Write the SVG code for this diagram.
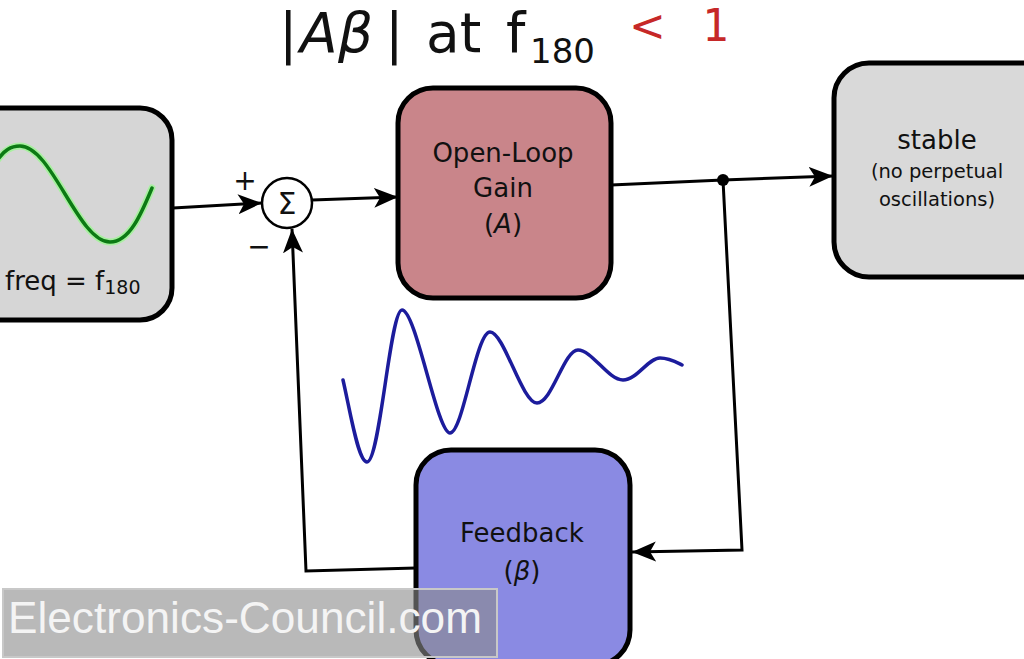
<svg xmlns="http://www.w3.org/2000/svg" width="1024" height="659" viewBox="0 0 1024 659">
<style>
.box{stroke:#000;stroke-width:5}
.lbl{font-family:"DejaVu Sans",Verdana,sans-serif;fill:#111;text-anchor:middle}
.wire{fill:none;stroke:#000;stroke-width:3;stroke-linejoin:miter}
</style>
<defs>
<marker id="arr" markerUnits="userSpaceOnUse" markerWidth="26" markerHeight="22" refX="24" refY="10" orient="auto">
<path d="M0,0 L24,10 L0,20 L6,10 z" fill="#000"/>
</marker>
</defs>
<rect width="1024" height="659" fill="#fff"/>

<g id="title" font-family="'DejaVu Sans',Verdana,sans-serif" fill="#111">
<text y="52" font-size="55"><tspan x="279">|</tspan><tspan x="300" font-style="italic">A</tspan><tspan x="338" font-style="italic">β</tspan><tspan x="385">|</tspan><tspan x="426">at</tspan><tspan x="506">f</tspan></text>
<text x="530" y="63" font-size="34">180</text>
<text x="629" y="41" font-size="44" fill="#c62828">&lt;</text>
<text x="702" y="41" font-size="44" font-family="'DejaVu Sans Mono',monospace" fill="#c62828">1</text>
</g>

<g id="connectors">
<path class="wire" d="M173,208 L262,203" marker-end="url(#arr)"/>
<path class="wire" d="M312,200 L398,197" marker-end="url(#arr)"/>
<path class="wire" d="M611,185 L723,180 L833,176" marker-end="url(#arr)"/>
<path class="wire" d="M723,180 L742,550 L632,552" marker-end="url(#arr)"/>
<path class="wire" d="M416,568 L306,571 L292,229" marker-end="url(#arr)"/>
<circle cx="723" cy="180" r="6" fill="#000"/>
</g>

<g id="input">
<rect class="box" x="-30" y="108" width="202" height="212" rx="32" fill="#d6d6d6"/>
<path d="M-4,162 C4,150 11,146 20,146 C52,146 78,242 110,242 C130,242 142,212 152,188" fill="none" stroke="#a8f0a0" stroke-width="7" stroke-linecap="round"/>
<path d="M-4,162 C4,150 11,146 20,146 C52,146 78,242 110,242 C130,242 142,212 152,188" fill="none" stroke="#0c7a14" stroke-width="3.5" stroke-linecap="round"/>
<text x="5" y="290" font-family="'DejaVu Sans',Verdana,sans-serif" font-size="26" fill="#111">freq = f<tspan font-size="19" dy="4">180</tspan></text>
</g>

<g id="sum">
<circle cx="287" cy="203" r="25" fill="#fff" stroke="#000" stroke-width="2.5"/>
<text x="287" y="214" class="lbl" font-size="30">Σ</text>
<text x="245" y="190" class="lbl" font-size="28">+</text>
<text x="259" y="256" class="lbl" font-size="28">−</text>
</g>

<g id="openloop">
<rect class="box" x="398" y="88" width="213" height="210" rx="35" fill="#c9858a"/>
<text x="503" y="162" class="lbl" font-size="26">Open-Loop</text>
<text x="503" y="197" class="lbl" font-size="26">Gain</text>
<text x="503" y="233" class="lbl" font-size="26">(<tspan font-style="italic">A</tspan>)</text>
</g>

<g id="stable">
<rect class="box" x="834" y="63" width="230" height="214" rx="35" fill="#d9d9d9"/>
<text x="937" y="149" class="lbl" font-size="26">stable</text>
<text x="937" y="178" class="lbl" font-size="19.5">(no perpetual</text>
<text x="937" y="206" class="lbl" font-size="19.5">oscillations)</text>
</g>

<g id="wave">
<path d="M343,380 C350,410 358,462 367,462 C380,462 390,310 402,310 C416,310 437,433 450,433 C463,433 476,332 490,332 C504,332 522,403 537,403 C552,403 564,350 578,350 C592,350 608,380 623,380 C637,380 648,358 660,358 C669,358 676,362 682,365" fill="none" stroke="#1c1c9c" stroke-width="3.5" stroke-linecap="round"/>
</g>

<g id="feedback">
<rect class="box" x="416" y="450" width="214" height="215" rx="35" fill="#8a8ae3"/>
<text x="522" y="542" class="lbl" font-size="26">Feedback</text>
<text x="522" y="580" class="lbl" font-size="26">(<tspan font-style="italic">β</tspan>)</text>
</g>

<g id="watermark">
<rect x="3" y="589" width="494" height="68" fill="#8a8a8a" fill-opacity="0.6" stroke="#c8c8c8" stroke-width="2"/>
<text x="8" y="633" font-family="'Liberation Sans',Arial,sans-serif" font-size="44" fill="#f4f4f4" textLength="474" lengthAdjust="spacingAndGlyphs">Electronics-Council.com</text>
</g>
</svg>
